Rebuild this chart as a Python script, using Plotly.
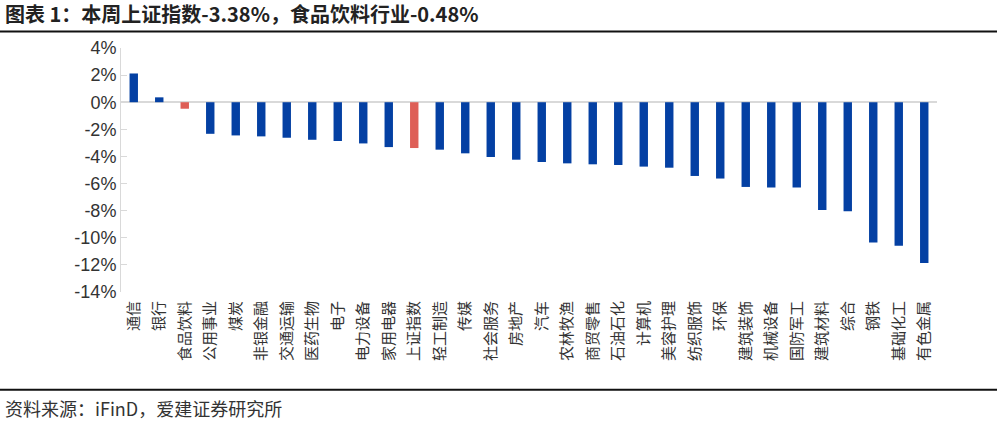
import plotly.graph_objects as go

categories = ["通信", "银行", "食品饮料", "公用事业", "煤炭", "非银金融", "交通运输", "医药生物",
              "电子", "电力设备", "家用电器", "上证指数", "轻工制造", "传媒", "社会服务", "房地产",
              "汽车", "农林牧渔", "商贸零售", "石油石化", "计算机", "美容护理", "纺织服饰", "环保",
              "建筑装饰", "机械设备", "国防军工", "建筑材料", "综合", "钢铁", "基础化工", "有色金属"]
values = [2.12, 0.36, -0.48, -2.33, -2.45, -2.52, -2.62, -2.77,
          -2.86, -3.04, -3.31, -3.38, -3.50, -3.77, -4.04, -4.24,
          -4.41, -4.51, -4.58, -4.63, -4.75, -4.83, -5.44, -5.63,
          -6.25, -6.30, -6.30, -7.96, -8.04, -10.34, -10.59, -11.86]
highlight = ["食品饮料", "上证指数"]
y_ticks = [4, 2, 0, -2, -4, -6, -8, -10, -12, -14]

BLUE = "#0440A3"
RED = "#DE5F57"
colors = [RED if c in highlight else BLUE for c in categories]

fig = go.Figure()
fig.add_trace(go.Bar(x=categories, y=[v / 100 for v in values], marker_color=colors,
                     marker_line_width=0, width=0.33))

FONT = "Noto Sans CJK SC"
fig.update_layout(
    width=997, height=422,
    margin=dict(l=121, r=60, t=48, b=130),
    plot_bgcolor="white", paper_bgcolor="white",
    showlegend=False,
    font=dict(family=FONT, color="#333333"),
    xaxis=dict(tickangle=-90, tickfont=dict(size=15, color="#333333", family=FONT),
               showgrid=False, showline=False, ticks="", range=[-0.5, 31.5],
               ticklabelstandoff=5),
    yaxis=dict(range=[-0.14, 0.04], tickvals=[t / 100 for t in y_ticks],
               ticktext=[f"{t}%" for t in y_ticks],
               tickfont=dict(size=18, color="#333333", family="Liberation Sans"),
               showgrid=False, showline=True, linecolor="#D9D9D9", linewidth=1,
               ticks="inside", ticklen=6, tickcolor="#D9D9D9",
               zeroline=True, zerolinecolor="#D9D9D9", zerolinewidth=2),
)

# title and source
fig.add_annotation(text="<b>图表 1：本周上证指数-3.38%，食品饮料行业-0.48%</b>",
                   xref="paper", yref="paper", x=-0.144, y=1.14, xanchor="left", yanchor="middle",
                   showarrow=False, font=dict(size=20, color="#222222", family=FONT))
fig.add_annotation(text="资料来源：iFinD，爱建证券研究所",
                   xref="paper", yref="paper", x=-0.144, y=-0.475, xanchor="left", yanchor="middle",
                   showarrow=False, font=dict(size=18, color="#333333", family=FONT))
fig.add_shape(type="line", xref="paper", yref="paper", x0=-0.15, x1=1.08, y0=1.068, y1=1.068,
              line=dict(color="#111111", width=2))
fig.add_shape(type="line", xref="paper", yref="paper", x0=-0.15, x1=1.08, y0=-0.401, y1=-0.401,
              line=dict(color="#111111", width=2))

fig.write_html("out.html")
